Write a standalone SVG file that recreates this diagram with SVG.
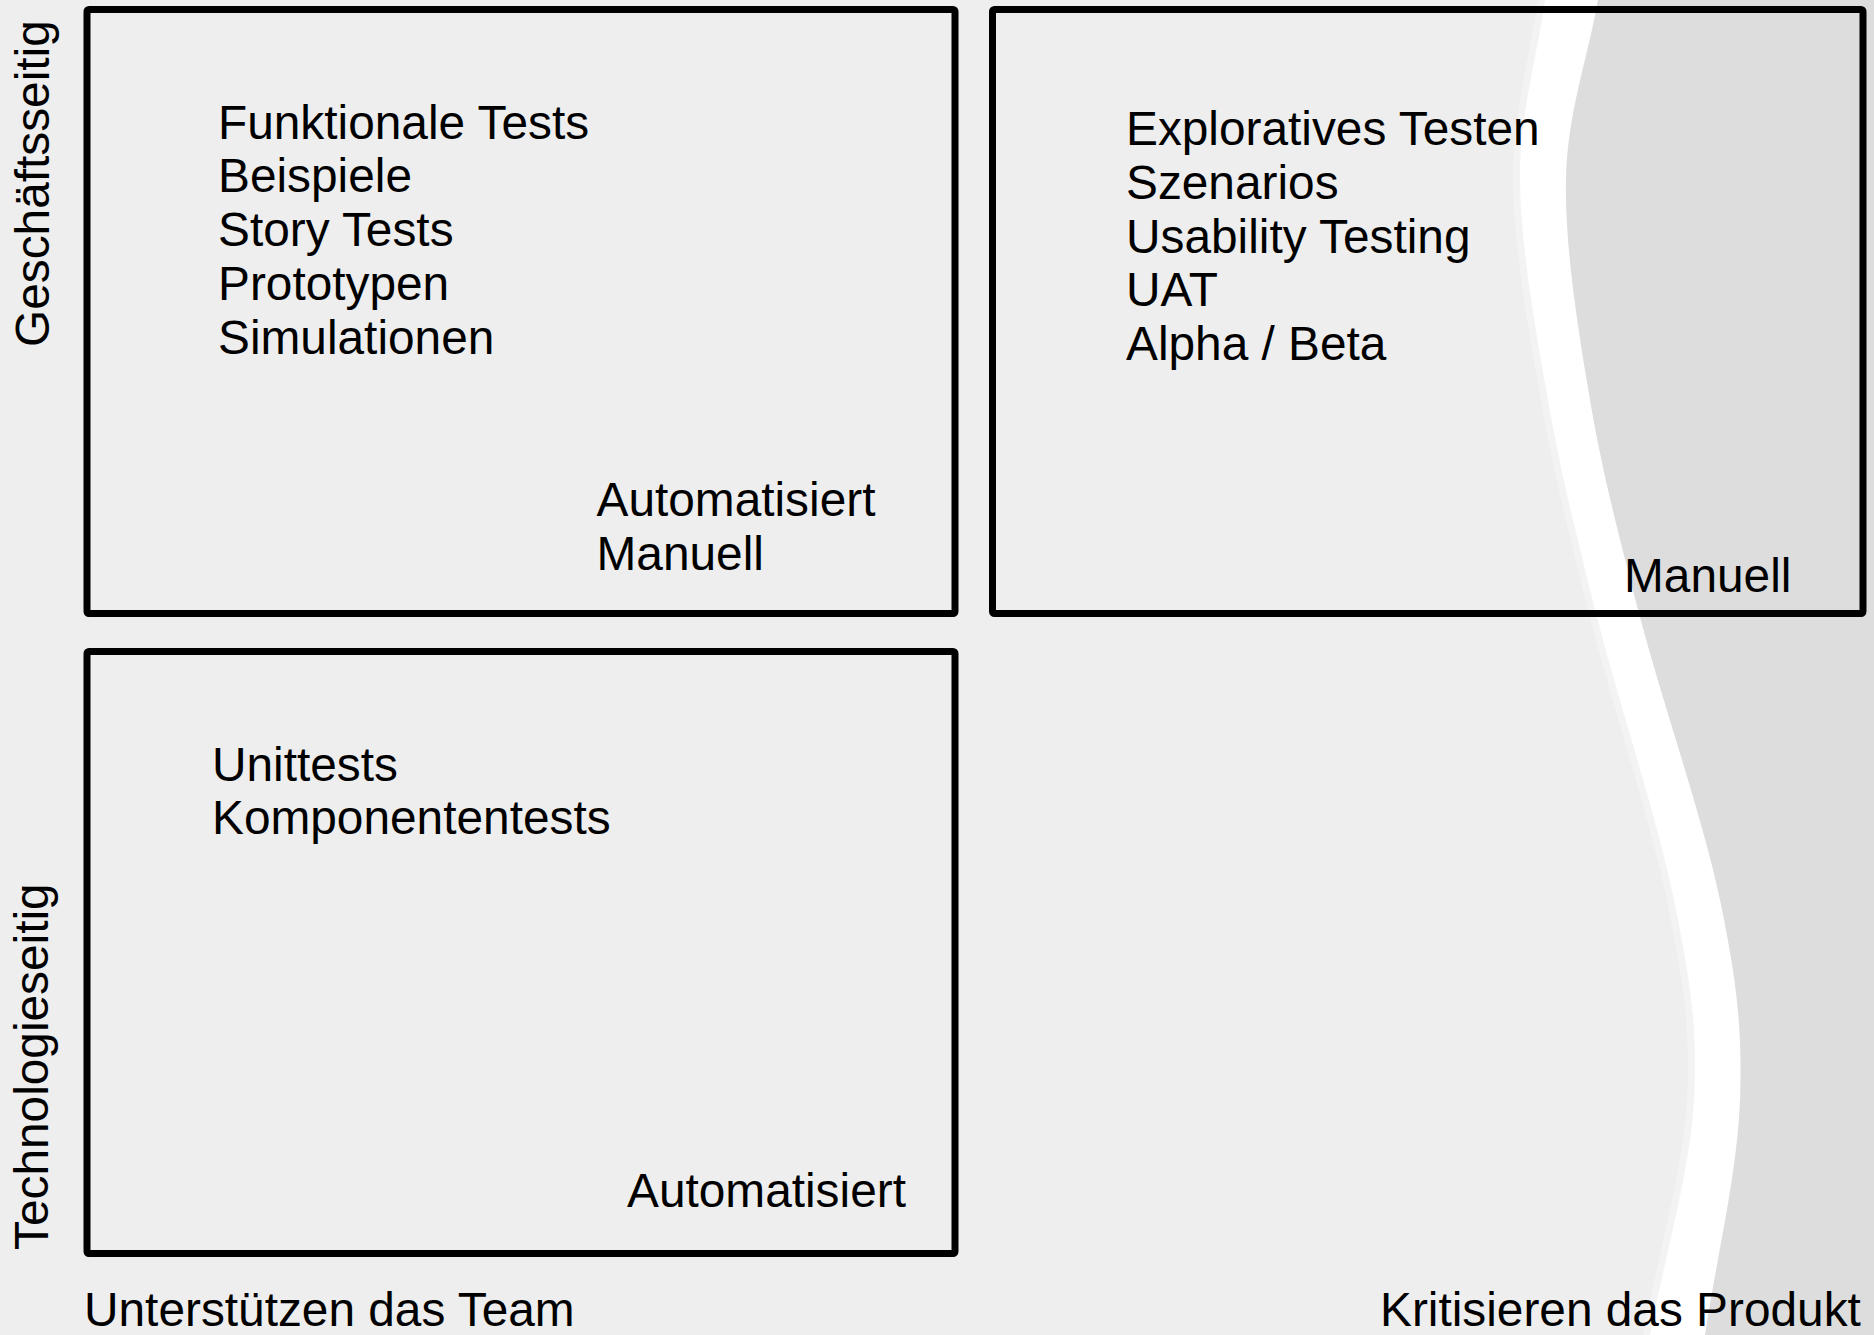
<svg xmlns="http://www.w3.org/2000/svg" width="1874" height="1335" viewBox="0 0 1874 1335">
<style>
  .t { font-family: "Liberation Sans", Arial, sans-serif; font-size: 47.8px; fill: #000; }
  .box { fill: none; stroke: #000; stroke-width: 7; }
</style>
<rect x="0" y="0" width="1874" height="1335" fill="#eeeeee"/>
<g id="wave">
  <path d="M1545,0 C1536.7,60 1519.5,113.3 1520,180 C1520.5,246.7 1535.2,327.2 1548,400 C1560.8,472.8 1576,533.7 1597,617 C1618,700.3 1657.8,819.5 1674,900 C1690.2,980.5 1698,1027.5 1694,1100 C1690,1172.5 1664.7,1256.7 1650,1335 L1874,1335 L1874,0 Z" fill="#ffffff" stroke="#f3f3f3" stroke-width="14" paint-order="stroke"/>
  <path d="M1598,0 C1587.3,60 1567.3,113.3 1566,180 C1564.7,246.7 1577.7,327.2 1590,400 C1602.3,472.8 1618.3,533.7 1640,617 C1661.7,700.3 1703.3,819.5 1720,900 C1736.7,980.5 1742.5,1027.5 1740,1100 C1737.5,1172.5 1716.7,1256.7 1705,1335 L1874,1335 L1874,0 Z" fill="#dddddd"/>
</g>
<g id="q1">
  <rect class="box" x="87" y="9.5" width="868" height="604" rx="2"/>
  <text class="t" x="218" y="138.5">Funktionale Tests</text>
  <text class="t" x="218" y="192.3">Beispiele</text>
  <text class="t" x="218" y="246.1">Story Tests</text>
  <text class="t" x="218" y="299.9">Prototypen</text>
  <text class="t" x="218" y="353.7">Simulationen</text>
  <text class="t" x="596.5" y="516">Automatisiert</text>
  <text class="t" x="596.5" y="569.8">Manuell</text>
</g>
<g id="q2">
  <rect class="box" x="992.5" y="9.5" width="870.5" height="604" rx="2"/>
  <text class="t" x="1126" y="145">Exploratives Testen</text>
  <text class="t" x="1126" y="198.8">Szenarios</text>
  <text class="t" x="1126" y="252.6">Usability Testing</text>
  <text class="t" x="1126" y="306.4">UAT</text>
  <text class="t" x="1126" y="360.2">Alpha / Beta</text>
  <text class="t" x="1624" y="592">Manuell</text>
</g>
<g id="q3">
  <rect class="box" x="87" y="651.5" width="868" height="602" rx="2"/>
  <text class="t" x="212" y="780.5">Unittests</text>
  <text class="t" x="212" y="833.5">Komponententests</text>
  <text class="t" x="627" y="1207">Automatisiert</text>
</g>
<g id="axes">
  <text class="t" transform="translate(48.5,347) rotate(-90)">Geschäftsseitig</text>
  <text class="t" transform="translate(48,1250) rotate(-90)">Technologieseitig</text>
  <text class="t" x="84" y="1326">Unterstützen das Team</text>
  <text class="t" x="1380" y="1326">Kritisieren das Produkt</text>
</g>
<g id="connectors"/>
</svg>
